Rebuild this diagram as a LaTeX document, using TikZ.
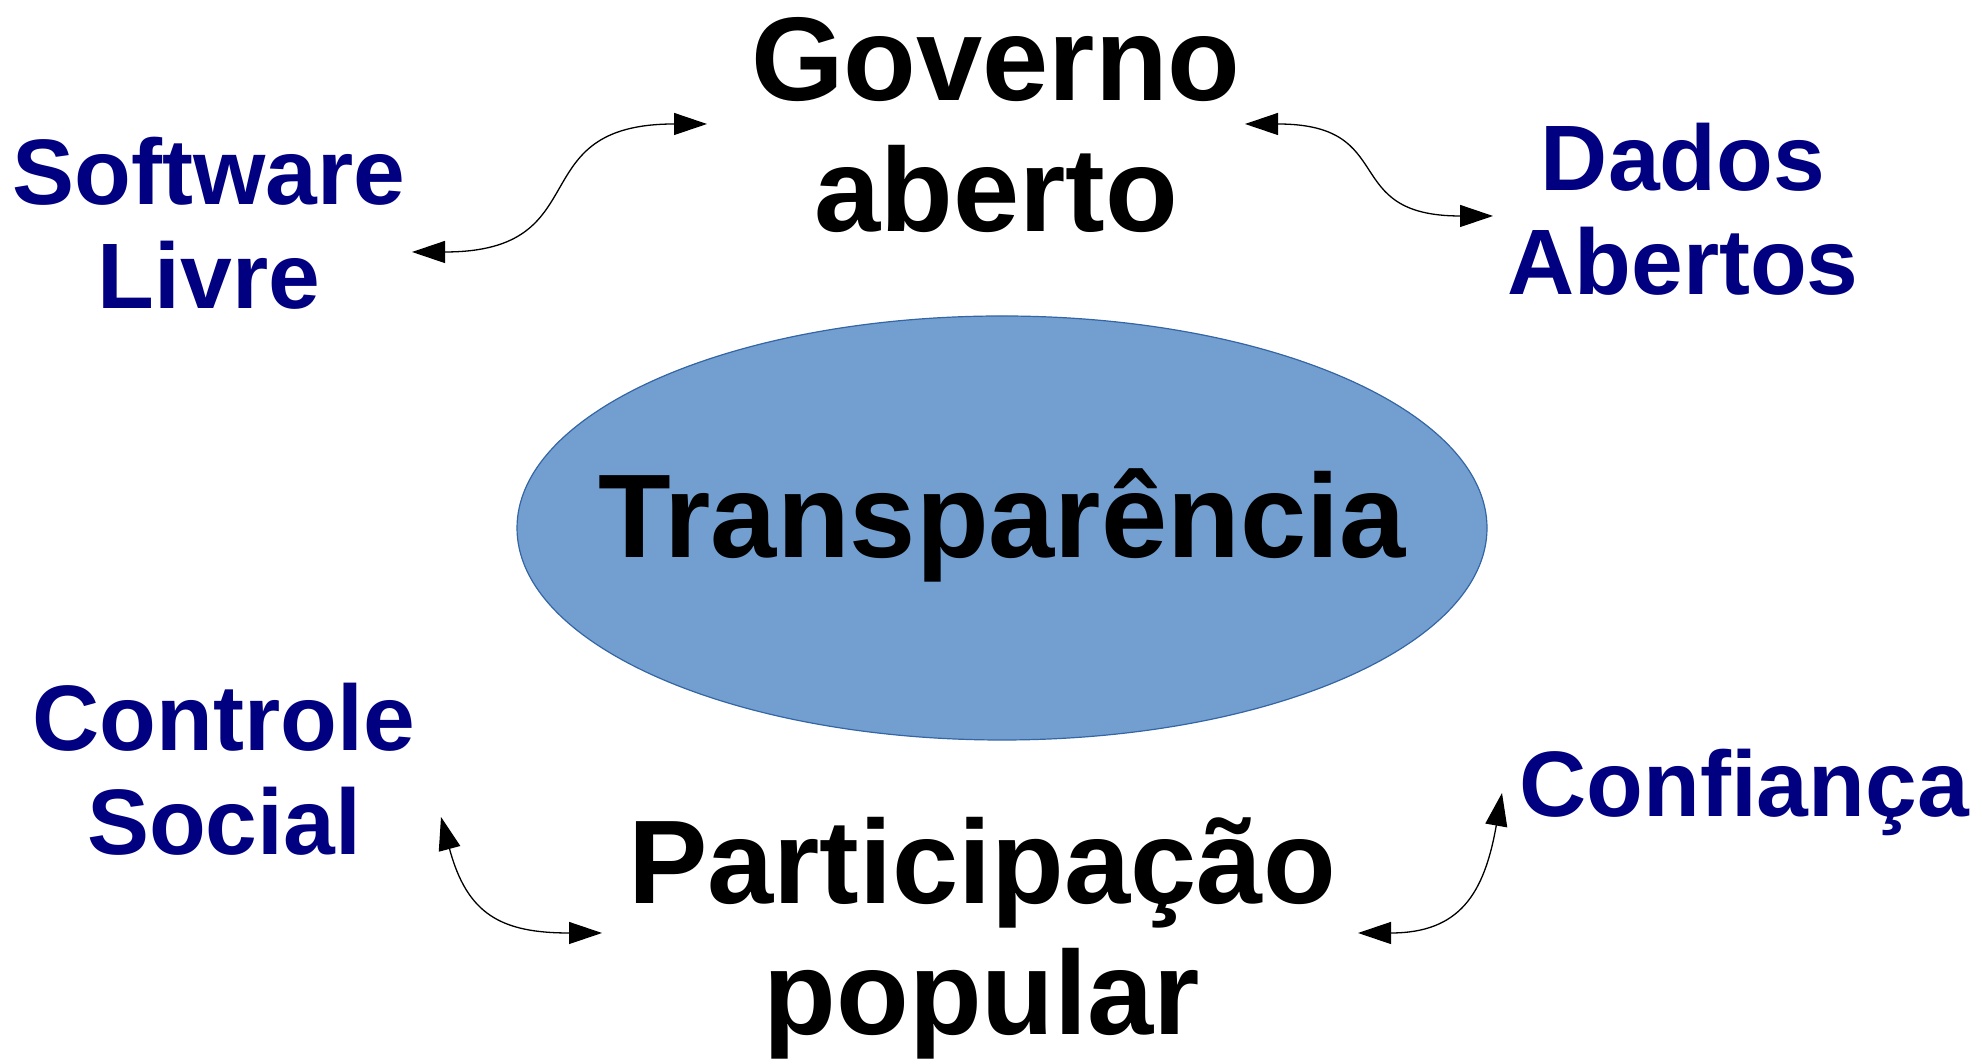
\documentclass[tikz,border=0pt]{standalone}
\usepackage{fontspec}
\setmainfont{Liberation Sans}
\usetikzlibrary{shapes.geometric,arrows.meta}

\definecolor{topicblue}{HTML}{000080}
\definecolor{hubfill}{HTML}{729FCF}
\definecolor{hubline}{HTML}{3465A4}

\begin{document}
\begin{tikzpicture}[x=1pt,y=1pt]
    \tikzstyle{hub}=[ellipse,draw=hubline,fill=hubfill,line width=1.2pt,minimum width=970pt,minimum height=424pt,inner xsep=-80pt,inner ysep=40pt,text height=110pt,text depth=50pt,font=\fontsize{119}{132}\selectfont\bfseries]
    \tikzstyle{pillar}=[anchor=base,align=center,inner sep=0pt,font=\fontsize{119}{131}\selectfont\bfseries]
    \tikzstyle{topic}=[anchor=base,align=center,inner sep=0pt,text=topicblue,font=\fontsize{93}{104}\selectfont\bfseries]
    \tikzstyle{link}=[{Triangle[length=33pt,width=22pt]}-{Triangle[length=33pt,width=22pt]},line width=1.3pt]

    \useasboundingbox (0,0) rectangle (1988,1064);

    \node[hub] at (1002,536) (tr) {Transparência};

    % base anchor sits on the last line
    \node[pillar] at (996,832) (ga) {Governo\\aberto};
    \node[pillar] at (982,29) (pp) {Participação\\popular};

    \node[topic] at (209,755) (sl) {Software\\Livre};
    \node[topic] at (1683,769) (da) {Dados\\Abertos};
    \node[topic] at (224,209) (cs) {Controle\\Social};
    \node[topic] at (1744,247) (cf) {Confiança};

    \coordinate (sl-ga) at (412,812);
    \coordinate (ga-sl) at (707,940);
    \coordinate (ga-da) at (1245,940);
    \coordinate (da-ga) at (1493,848);
    \coordinate (cs-pp) at (441,247);
    \coordinate (pp-cs) at (602,131);
    \coordinate (pp-cf) at (1358,131);
    \coordinate (cf-pp) at (1502,271);

    \draw[link] (sl-ga) to [out=0, in=180, looseness=1.5] (ga-sl);
    \draw[link] (ga-da) to [out=0, in=180, looseness=1.5] (da-ga);
    \draw[link] (cs-pp) to [out=-75, in=180, looseness=1.3] (pp-cs);
    \draw[link] (pp-cf) to [out=0, in=-100, looseness=1.3] (cf-pp);
\end{tikzpicture}
\end{document}
